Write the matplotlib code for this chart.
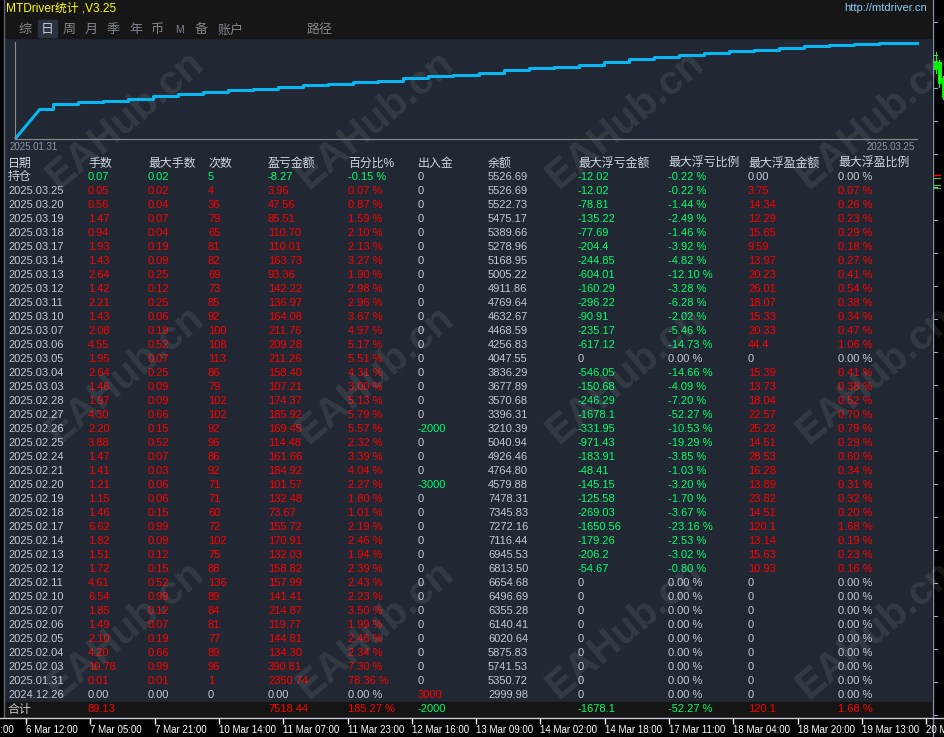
import numpy as np
import matplotlib
matplotlib.use('Agg')
import matplotlib.pyplot as plt
from matplotlib.patches import Rectangle

plt.rcParams['font.family'] = ['Liberation Sans', 'Noto Sans CJK SC', 'DejaVu Sans']

# ---- table data (newest first, first row is open positions) ----
dates = ['持仓', '2025.03.25', '2025.03.20', '2025.03.19', '2025.03.18', '2025.03.17', '2025.03.14',
         '2025.03.13', '2025.03.12', '2025.03.11', '2025.03.10', '2025.03.07', '2025.03.06',
         '2025.03.05', '2025.03.04', '2025.03.03', '2025.02.28', '2025.02.27', '2025.02.26',
         '2025.02.25', '2025.02.24', '2025.02.21', '2025.02.20', '2025.02.19', '2025.02.18',
         '2025.02.17', '2025.02.14', '2025.02.13', '2025.02.12', '2025.02.11', '2025.02.10',
         '2025.02.07', '2025.02.06', '2025.02.05', '2025.02.04', '2025.02.03', '2025.01.31',
         '2024.12.26']
lots = ['0.07', '0.05', '0.56', '1.47', '0.94', '1.93', '1.43', '2.64', '1.42', '2.21', '1.43', '2.08',
        '4.55', '1.95', '2.64', '1.46', '1.97', '4.30', '2.20', '3.88', '1.47', '1.41', '1.21', '1.15',
        '1.46', '6.62', '1.82', '1.51', '1.72', '4.61', '6.54', '1.85', '1.49', '2.10', '4.20', '10.78',
        '0.01', '0.00']
max_lots = ['0.02', '0.02', '0.04', '0.07', '0.04', '0.19', '0.09', '0.25', '0.12', '0.25', '0.06', '0.19',
            '0.52', '0.07', '0.25', '0.09', '0.09', '0.66', '0.15', '0.52', '0.07', '0.03', '0.06', '0.06',
            '0.15', '0.99', '0.09', '0.12', '0.15', '0.52', '0.99', '0.12', '0.07', '0.19', '0.66', '0.99',
            '0.01', '0.00']
trades = ['5', '4', '36', '79', '65', '81', '82', '69', '73', '85', '92', '100', '108', '113', '86', '79',
          '102', '102', '92', '96', '86', '92', '71', '71', '60', '72', '102', '75', '88', '136', '89', '84',
          '81', '77', '89', '96', '1', '0']
pnl = ['-8.27', '3.96', '47.56', '85.51', '110.70', '110.01', '163.73', '93.36', '142.22', '136.97',
       '164.08', '211.76', '209.28', '211.26', '158.40', '107.21', '174.37', '185.92', '169.45', '114.48',
       '161.66', '184.92', '101.57', '132.48', '73.67', '155.72', '170.91', '132.03', '158.82', '157.99',
       '141.41', '214.87', '119.77', '144.81', '134.30', '390.81', '2350.74', '0.00']
pct = ['-0.15 %', '0.07 %', '0.87 %', '1.59 %', '2.10 %', '2.13 %', '3.27 %', '1.90 %', '2.98 %', '2.96 %',
       '3.67 %', '4.97 %', '5.17 %', '5.51 %', '4.31 %', '3.00 %', '5.13 %', '5.79 %', '5.57 %', '2.32 %',
       '3.39 %', '4.04 %', '2.27 %', '1.80 %', '1.01 %', '2.19 %', '2.46 %', '1.94 %', '2.39 %', '2.43 %',
       '2.23 %', '3.50 %', '1.99 %', '2.46 %', '2.34 %', '7.30 %', '78.36 %', '0.00 %']
cash = ['0'] * 18 + ['-2000'] + ['0'] * 3 + ['-3000'] + ['0'] * 14 + ['3000']
balance = ['5526.69', '5526.69', '5522.73', '5475.17', '5389.66', '5278.96', '5168.95', '5005.22',
           '4911.86', '4769.64', '4632.67', '4468.59', '4256.83', '4047.55', '3836.29', '3677.89',
           '3570.68', '3396.31', '3210.39', '5040.94', '4926.46', '4764.80', '4579.88', '7478.31',
           '7345.83', '7272.16', '7116.44', '6945.53', '6813.50', '6654.68', '6496.69', '6355.28',
           '6140.41', '6020.64', '5875.83', '5741.53', '5350.72', '2999.98']
float_loss = ['-12.02', '-12.02', '-78.81', '-135.22', '-77.69', '-204.4', '-244.85', '-604.01', '-160.29',
              '-296.22', '-90.91', '-235.17', '-617.12', '0', '-546.05', '-150.68', '-246.29', '-1678.1',
              '-331.95', '-971.43', '-183.91', '-48.41', '-145.15', '-125.58', '-269.03', '-1650.56',
              '-179.26', '-206.2', '-54.67'] + ['0'] * 9
float_loss_pct = ['-0.22 %', '-0.22 %', '-1.44 %', '-2.49 %', '-1.46 %', '-3.92 %', '-4.82 %', '-12.10 %',
                  '-3.28 %', '-6.28 %', '-2.02 %', '-5.46 %', '-14.73 %', '0.00 %', '-14.66 %', '-4.09 %',
                  '-7.20 %', '-52.27 %', '-10.53 %', '-19.29 %', '-3.85 %', '-1.03 %', '-3.20 %', '-1.70 %',
                  '-3.67 %', '-23.16 %', '-2.53 %', '-3.02 %', '-0.80 %'] + ['0.00 %'] * 9
float_profit = ['0.00', '3.75', '14.34', '12.29', '15.65', '9.59', '13.97', '20.23', '26.01', '18.07',
                '15.33', '20.33', '44.4', '0', '15.39', '13.73', '18.04', '22.57', '25.22', '14.51', '28.53',
                '16.28', '13.89', '23.82', '14.51', '120.1', '13.14', '15.63', '10.93'] + ['0'] * 9
float_profit_pct = ['0.00 %', '0.07 %', '0.26 %', '0.23 %', '0.29 %', '0.18 %', '0.27 %', '0.41 %', '0.54 %',
                    '0.38 %', '0.34 %', '0.47 %', '1.06 %', '0.00 %', '0.41 %', '0.38 %', '0.52 %', '0.70 %',
                    '0.79 %', '0.29 %', '0.60 %', '0.34 %', '0.31 %', '0.32 %', '0.20 %', '1.68 %', '0.19 %',
                    '0.23 %', '0.16 %'] + ['0.00 %'] * 9

total_row = ['合计', '89.13', '', '', '7518.44', '185.27 %', '-2000', '', '-1678.1', '-52.27 %', '120.1', '1.68 %']

headers = ['日期', '手数', '最大手数', '次数', '盈亏金额', '百分比%', '出入金', '余额',
           '最大浮亏金额', '最大浮亏比例', '最大浮盈金额', '最大浮盈比例']
tabs = ['综', '日', '周', '月', '季', '年', '币', 'M', '备', '账户', '路径']
time_labels = ['5 Mar 19:00', '6 Mar 12:00', '7 Mar 05:00', '7 Mar 21:00', '10 Mar 14:00', '11 Mar 07:00',
               '11 Mar 23:00', '12 Mar 16:00', '13 Mar 09:00', '14 Mar 02:00', '14 Mar 18:00',
               '17 Mar 11:00', '18 Mar 04:00', '18 Mar 20:00', '19 Mar 13:00', '20 Mar 06:00']

# ---- colours / layout ----
W, H = 944, 737
BG = '#212833'
BAR = '#161616'
GRAY = '#c3cad6'
RED = '#ff0000'
GREEN = '#00ff6a'
col_x = [8, 88, 148, 208, 268, 348, 418, 488, 578, 668, 748, 838]
tab_x = [18, 41, 63, 85, 107, 129, 151, 175, 195, 218, 307]
row_y0, row_dy = 177, 14.0


def sign_color(s):
    try:
        v = float(s.replace('%', '').strip())
    except ValueError:
        return GRAY
    if v > 0:
        return RED
    if v < 0:
        return GREEN
    return GRAY


fig = plt.figure(figsize=(W / 100, H / 100), dpi=100, facecolor='black')
bg = fig.add_axes([0, 0, 1, 1])
bg.set_xlim(0, W)
bg.set_ylim(H, 0)
bg.axis('off')

# panels
bg.add_patch(Rectangle((5, 38), 926, 679, color=BG, zorder=0))
bg.add_patch(Rectangle((5, 0), 926, 38, color=BAR, zorder=0))
bg.add_patch(Rectangle((5, 702), 926, 15, color='#151515', zorder=0))
bg.add_patch(Rectangle((38, 20), 19, 17, color='#2a3441', zorder=1))
bg.plot([3.5, 3.5], [0, 717], color='#5d6472', lw=1)
bg.plot([932.5, 932.5], [0, H], color='#7f8fa8', lw=1)
for yy in np.arange(22, 717, 33):
    bg.plot([934, 937], [yy, yy], color='#9aa6b8', lw=0.8)
# little candles on the price scale
candle_x = [935.5, 939, 943]
candle_o = [61, 62, 78]
candle_c = [69, 83, 97]
candle_hi = [52, 60, 76]
candle_lo = [73, 87, 99]
for cx, o, c, hi, lo in zip(candle_x, candle_o, candle_c, candle_hi, candle_lo):
    bg.plot([cx, cx], [hi, lo], color='#00ff00', lw=0.8)
    bg.add_patch(Rectangle((cx - 1.5, o), 3, c - o, facecolor='#00ff00', edgecolor='#00ff00', lw=0.6))
bg.plot([934, 940], [175, 175], color='#ff0000', lw=1)
for yy in [177.5, 185, 188]:
    bg.plot([934, 940], [yy, yy], color='#30d030', lw=0.8)

# title bar
bg.text(6, 8, 'MTDriver统计 ,V3.25', color='#ffff00', fontsize=8.6, va='center', ha='left')
bg.text(927, 8, 'http://mtdriver.cn', color='#87cefa', fontsize=8, va='center', ha='right')
for t, x in zip(tabs, tab_x):
    c = '#c0c6ce' if t == '日' else '#80868e'
    fs = 7.5 if t == 'M' else 9.4
    bg.text(x, 30, t, color=c, fontsize=fs, va='center', ha='left')

# equity curve
day_pnl = np.array([float(v) for v in pnl[1:-1]])[::-1]
equity = np.concatenate([[0.0], np.cumsum(day_pnl)])
xs = np.arange(len(equity))
ax = fig.add_axes([15 / W, 1 - 139 / H, 902 / W, 97 / H])
ax.patch.set_alpha(0)
ax.plot(xs[:2], equity[:2], color='#08b6f2', lw=2.2, solid_capstyle='butt', clip_on=False)
ax.step(xs[1:], equity[1:], where='mid', color='#08b6f2', lw=2.2, clip_on=False)
ax.set_xlim(0, xs[-1])
ax.set_ylim(0, equity.max() * 1.012)
ax.set_xticks([])
ax.set_yticks([])
for s in ['top', 'right']:
    ax.spines[s].set_visible(False)
for s in ['left', 'bottom']:
    ax.spines[s].set_color('#8c8c8c')
    ax.spines[s].set_linewidth(0.8)
bg.text(10, 147, dates[-2], color='#8a95a5', fontsize=7, va='center', ha='left')
bg.text(915, 147, dates[1], color='#8a95a5', fontsize=7, va='center', ha='right')

# table
for h, x in zip(headers, col_x):
    bg.text(x, 164, h, color='#d0d6e0', fontsize=8.6, va='center', ha='left')

for i in range(len(dates)):
    y = row_y0 + i * row_dy
    pc = sign_color(pnl[i])
    cells = [(dates[i], GRAY), (lots[i], pc), (max_lots[i], pc), (trades[i], pc), (pnl[i], pc), (pct[i], pc),
             (cash[i], sign_color(cash[i])), (balance[i], GRAY),
             (float_loss[i], sign_color(float_loss[i])), (float_loss_pct[i], sign_color(float_loss_pct[i])),
             (float_profit[i], sign_color(float_profit[i])), (float_profit_pct[i], sign_color(float_profit_pct[i]))]
    for (txt, c), x in zip(cells, col_x):
        fs = 8.6 if txt == '持仓' else 8
        bg.text(x, y, txt, color=c, fontsize=fs, va='center', ha='left')

ty = 709.5
for j, (txt, x) in enumerate(zip(total_row, col_x)):
    c = GRAY if j == 0 else sign_color(txt)
    fs = 8.6 if j == 0 else 8
    bg.text(x, ty, txt, color=c, fontsize=fs, va='center', ha='left')

# watermarks
for wy in [120, 375, 630]:
    for wx in [125, 375, 625, 875]:
        bg.text(wx, wy, 'EAHub.cn', color='white', alpha=0.09, fontsize=29, fontweight='bold',
                rotation=40, ha='center', va='center', rotation_mode='anchor', zorder=5)

# time axis strip at the bottom
tx = fig.add_axes([-64.3 / W, 1 - 717.5 / H, (W + 64.3) / W, 0.0001])
tx.patch.set_alpha(0)
tx.set_xlim(-64.3, W)
tpos = 26 + 64.3 * (np.arange(len(time_labels)) - 1)
tx.set_xticks(tpos)
tx.set_xticklabels(time_labels)
tx.set_yticks([])
for s in ['top', 'left', 'right']:
    tx.spines[s].set_visible(False)
tx.spines['bottom'].set_color('#c8ccd4')
tx.spines['bottom'].set_linewidth(1)
tx.tick_params(axis='x', direction='out', length=4, width=1, color='white', labelcolor='white',
               labelsize=7, pad=1.5)
for lab in tx.get_xticklabels():
    lab.set_ha('left')

fig.savefig('out.png', dpi=100, facecolor='black')
